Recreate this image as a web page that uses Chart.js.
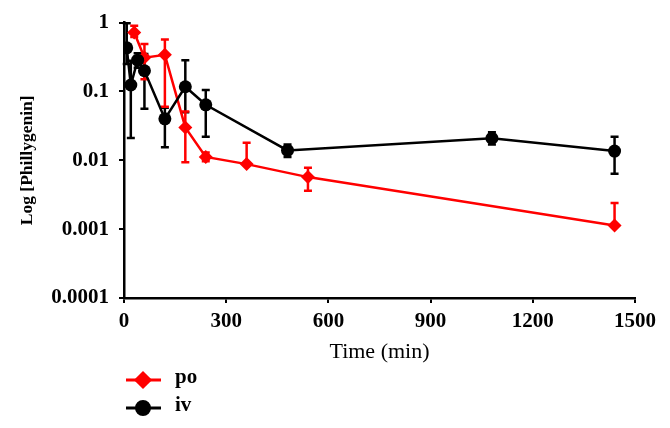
<!DOCTYPE html>
<html>
<head>
<meta charset="utf-8">
<script src="https://cdn.jsdelivr.net/npm/chart.js@4.4.1/dist/chart.umd.min.js"></script>
<style>
  body { margin: 0; background: #fff; }
  #wrap { width: 670px; height: 428px; }
</style>
</head>
<body>
<div id="wrap"><canvas id="chart"></canvas></div>
<script>
// po (oral) series
const poTime  = [30, 60, 120, 180, 240, 360, 540, 1440];
const poValue = [0.72, 0.31, 0.34, 0.030, 0.0112, 0.0088, 0.0057, 0.00113];
const poUpper = [0.90, 0.49, 0.57, 0.051, 0.0130, 0.018, 0.0078, 0.0024];
const poLower = [0.62, 0.15, 0.06, 0.0094, 0.0097, 0.0088, 0.0036, 0.00113];

// iv series
const ivTime  = [8, 20, 40, 60, 120, 180, 240, 480, 1080, 1440];
const ivValue = [0.43, 0.124, 0.285, 0.20, 0.040, 0.117, 0.064, 0.0139, 0.0209, 0.0136];
const ivUpper = [0.98, 0.28, 0.36, 0.35, 0.058, 0.285, 0.105, 0.0170, 0.0255, 0.0220];
const ivLower = [0.25, 0.021, 0.22, 0.056, 0.0155, 0.05, 0.022, 0.0112, 0.0170, 0.0064];

const xTicks = [0, 300, 600, 900, 1200, 1500];
const yTicks = [0.0001, 0.001, 0.01, 0.1, 1];

const serif = "'Liberation Serif', 'Times New Roman', serif";

function pts(xs, ys) {
  return xs.map((x, i) => ({ x: x, y: ys[i] }));
}

// error bars, drawn under the lines
const errorBars = {
  id: "errorBars",
  beforeDatasetsDraw(chart) {
    const ctx = chart.ctx;
    const xs = chart.scales.x, ys = chart.scales.y;
    chart.data.datasets.forEach((ds) => {
      ctx.save();
      ctx.strokeStyle = ds.borderColor;
      ctx.lineWidth = 2.5;
      ds.data.forEach((p, i) => {
        const px = xs.getPixelForValue(p.x);
        const top = ys.getPixelForValue(ds.upper[i]);
        const bot = ys.getPixelForValue(ds.lower[i]);
        ctx.beginPath();
        ctx.moveTo(px, top);
        ctx.lineTo(px, bot);
        ctx.moveTo(px - 4, top);
        ctx.lineTo(px + 4, top);
        if (ds.lower[i] < p.y) {
          ctx.moveTo(px - 4, bot);
          ctx.lineTo(px + 4, bot);
        }
        ctx.stroke();
      });
      ctx.restore();
    });
  }
};

// legend stacked under the x axis title
const sideLegend = {
  id: "sideLegend",
  afterDraw(chart) {
    const ctx = chart.ctx;
    const left = chart.chartArea.left + 2;
    const items = [chart.data.datasets[1], chart.data.datasets[0]];
    items.forEach((ds, k) => {
      const y = 380 + k * 28;
      ctx.save();
      ctx.strokeStyle = ds.borderColor;
      ctx.fillStyle = ds.borderColor;
      ctx.lineWidth = 3;
      ctx.beginPath();
      ctx.moveTo(left, y);
      ctx.lineTo(left + 35, y);
      ctx.stroke();
      Chart.helpers.drawPoint(ctx, { pointStyle: ds.pointStyle, radius: ds.pointRadius, borderWidth: 1 }, left + 17, y);
      ctx.fillStyle = "#000";
      ctx.font = "bold 21px " + serif;
      ctx.textBaseline = "middle";
      ctx.fillText(ds.label, left + 49, y - 2);
      ctx.restore();
    });
  }
};

new Chart(document.getElementById("chart"), {
  type: "line",
  data: {
    datasets: [
      {
        label: "iv",
        data: pts(ivTime, ivValue),
        upper: ivUpper,
        lower: ivLower,
        borderColor: "#000000",
        backgroundColor: "#000000",
        borderWidth: 2.5,
        pointStyle: "circle",
        pointRadius: 6.5,
        pointBorderWidth: 0,
        tension: 0
      },
      {
        label: "po",
        data: pts(poTime, poValue),
        upper: poUpper,
        lower: poLower,
        borderColor: "#ff0000",
        backgroundColor: "#ff0000",
        borderWidth: 2.5,
        pointStyle: "rectRot",
        pointRadius: 7,
        pointBorderWidth: 0,
        tension: 0
      }
    ]
  },
  options: {
    responsive: true,
    maintainAspectRatio: false,
    animation: false,
    layout: { padding: { top: 21, right: 35, bottom: 0, left: 0 } },
    plugins: {
      legend: { display: false },
      tooltip: { enabled: false }
    },
    scales: {
      x: {
        type: "linear",
        min: 0,
        max: 1500,
        afterFit(scale) { scale.height = 130; },
        afterBuildTicks(scale) { scale.ticks = xTicks.map(v => ({ value: v })); },
        grid: { display: true, drawOnChartArea: false, drawTicks: true, tickLength: 5, color: "#000", lineWidth: 2 },
        border: { display: true, color: "#000", width: 2.5 },
        ticks: {
          color: "#000",
          padding: 6,
          maxRotation: 0,
          font: { family: serif, size: 21, weight: "bold" },
          callback: (v) => String(v)
        },
        title: {
          display: true,
          text: "Time (min)",
          color: "#000",
          font: { family: serif, size: 22 },
          padding: { top: 0, bottom: 63 }
        }
      },
      y: {
        type: "logarithmic",
        min: 0.0001,
        max: 1,
        afterFit(scale) { scale.width = 124; },
        afterBuildTicks(scale) { scale.ticks = yTicks.map(v => ({ value: v })); },
        grid: { display: true, drawOnChartArea: false, drawTicks: true, tickLength: 5, color: "#000", lineWidth: 2 },
        border: { display: true, color: "#000", width: 2.5 },
        ticks: {
          color: "#000",
          padding: 10,
          font: { family: serif, size: 21, weight: "bold" },
          callback: (v) => String(v)
        },
        title: {
          display: true,
          text: "Log [Phillygenin]",
          color: "#000",
          font: { family: serif, size: 17.5, weight: "bold" },
          padding: { top: 17, bottom: 0 }
        }
      }
    }
  },
  plugins: [errorBars, sideLegend]
});
</script>
</body>
</html>
